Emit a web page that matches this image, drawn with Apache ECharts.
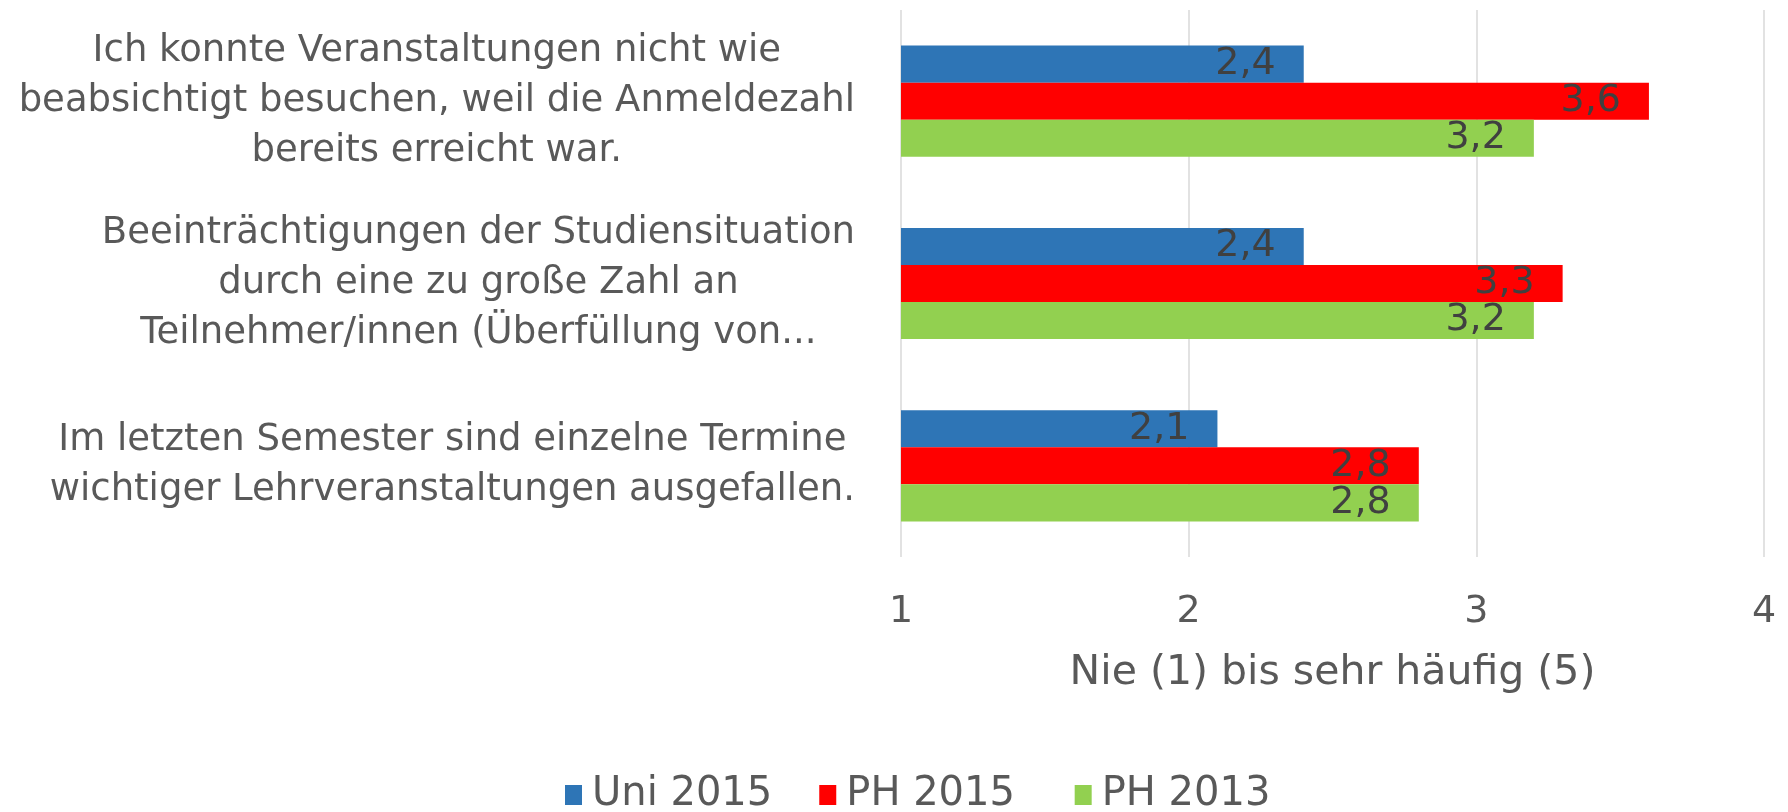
<!DOCTYPE html>
<html>
<head>
<meta charset="utf-8">
<script src="https://cdn.jsdelivr.net/npm/echarts@6/dist/echarts.min.js"></script>
<style>
  html, body { margin: 0; padding: 0; background: #fff; }
  #chart { width: 1788px; height: 812px; }
</style>
</head>
<body>
<div id="chart"></div>
<script>
// Kategorien (von oben nach unten)
const categories = [
  'Ich konnte Veranstaltungen nicht wie\nbeabsichtigt besuchen, weil die Anmeldezahl\nbereits erreicht war.',
  'Beeinträchtigungen der Studiensituation\ndurch eine zu große Zahl an\nTeilnehmer/innen (Überfüllung von...',
  'Im letzten Semester sind einzelne Termine\nwichtiger Lehrveranstaltungen ausgefallen.'
]
const seriesNames = ['Uni 2015', 'PH 2015', 'PH 2013']
const uni2015 = [2.4, 2.4, 2.1]
const ph2015 = [3.6, 3.3, 2.8]
const ph2013 = [3.2, 3.2, 2.8]
const xTicks = [1, 2, 3, 4]
const axisName = 'Nie (1) bis sehr häufig (5)'

const colors = ['#2E75B6', '#FF0000', '#92D050']
const font = 'DejaVu Sans'

const chart = echarts.init(document.getElementById('chart'))

const valueLabel = {
  show: true,
  position: 'insideRight',
  distance: 28,
  color: '#404040',
  fontFamily: font,
  fontSize: 38,
  formatter: p => String(p.value).replace('.', ',')
}

const seriesArr = [uni2015, ph2015, ph2013].map((data, i) => {
  return {
    name: seriesNames[i],
    type: 'bar',
    data: data,
    barGap: 0,
    barCategoryGap: '39%',
    itemStyle: { color: colors[i] },
    label: valueLabel
  }
})

chart.setOption({
  animation: false,
  textStyle: { fontFamily: font },
  grid: {
    left: 901,
    right: 24,
    top: 10,
    bottom: 255
  },
  legend: {
    data: seriesNames,
    left: 560,
    top: 770,
    itemWidth: 17,
    itemHeight: 20,
    itemGap: 47,
    icon: 'rect',
    // Excel verteilt die Einträge etwas ungleichmäßig -> kleiner Abstandhalter nach "PH 2015"
    formatter: name => '{t|' + name + '}' + (name === seriesNames[1] ? '{gap| }' : ''),
    textStyle: {
      color: '#595959',
      fontSize: 40,
      fontFamily: font,
      rich: {
        t: { color: '#595959', fontSize: 40, fontFamily: font, padding: [0, 0, 0, 5] },
        gap: { width: 36 }
      }
    }
  },
  xAxis: {
    type: 'value',
    min: xTicks[0],
    max: xTicks[xTicks.length - 1],
    interval: 1,
    axisLine: { show: false },
    axisTick: { show: false },
    splitLine: { show: true, lineStyle: { color: '#d9d9d9', width: 1.5 } },
    axisLabel: {
      color: '#595959',
      fontSize: 38,
      fontFamily: font,
      margin: 36
    },
    name: axisName,
    nameLocation: 'middle',
    nameGap: 96,
    nameTextStyle: { color: '#595959', fontSize: 41, fontFamily: font }
  },
  yAxis: {
    type: 'category',
    data: categories,
    inverse: true,
    axisLine: { show: false },
    axisTick: { show: false },
    splitLine: { show: false },
    axisLabel: {
      align: 'right',
      margin: 46,
      color: '#595959',
      fontSize: 37,
      fontFamily: font,
      lineHeight: 50,
      formatter: v => v.split('\n').map(l => '{c|' + l + '}').join('\n'),
      rich: {
        c: { align: 'center', color: '#595959', fontSize: 37, fontFamily: font, lineHeight: 50 }
      }
    }
  },
  series: seriesArr
})
</script>
</body>
</html>
